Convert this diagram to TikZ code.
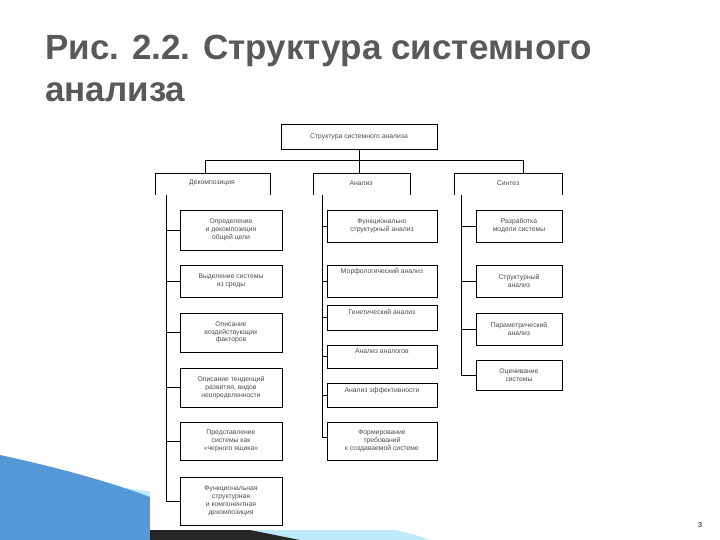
\documentclass[tikz,border=0pt]{standalone}
\usepackage{fontspec}
\setmainfont{Liberation Sans}
\begin{document}
\begin{tikzpicture}[x=1pt,y=-1pt,
  bx/.style={draw,line width=0.7pt,rectangle,minimum width=102pt,align=center,font=\fontsize{6.8}{7.8}\selectfont,text=black!70,inner sep=1pt},
  mb/.style={bx,minimum width=110pt},
  rb/.style={bx,minimum width=86pt},
  ln/.style={line width=0.7pt},
  ttl/.style={anchor=base west,font=\fontsize{35}{36}\selectfont\bfseries,text=black!65,inner sep=0}]
\useasboundingbox (0,0) rectangle (720,540);
\fill[white] (0,0) rectangle (720,540);
% decoration
\fill[cyan!25] (0,470) .. controls (200,500) and (380,520) .. (430,540) -- (0,540) -- cycle;
\fill[cyan!60!blue!70] (0,455) .. controls (60,468) and (110,482) .. (150,497) -- (150,540) -- (0,540) -- cycle;
\fill[black!85] (150,510) -- (300,540) -- (150,540) -- cycle;
\fill[white] (150,118) rectangle (578,530);
\node[ttl] (t1) at (45,60) {Рис. 2.2. Структура системного};
\node[ttl] (t2) at (45,102) {анализа};
\node[anchor=base,font=\fontsize{7}{8}\selectfont,inner sep=0] (pg) at (700,527) {3};
% top
\node[bx,minimum width=156pt,minimum height=25pt] (top) at (359,136.5) {Структура системного анализа};
\coordinate (hl) at (205,160); \coordinate (hr) at (523,160);
\draw[ln] (top.south) -- (359,173);
\draw[ln] (hl) -- (hr);
\draw[ln] (hl) -- (205,173); \draw[ln] (hr) -- (523,173);
% headers
\node[font=\fontsize{6.8}{7.8}\selectfont,text=black!70] (h1) at (212,183) {Декомпозиция};
\node[font=\fontsize{6.8}{7.8}\selectfont,text=black!70] (h2) at (361,183) {Анализ};
\node[font=\fontsize{6.8}{7.8}\selectfont,text=black!70] (h3) at (508,183) {Синтез};
\draw[ln] (155,195) -- (155,173) -- (270,173) -- (270,195);
\draw[ln] (313,195) -- (313,173) -- (410,173) -- (410,195);
\draw[ln] (454,195) -- (454,173) -- (562,173) -- (562,195);
% left
\node[bx,minimum height=40pt] (l1) at (231,230) {Определение\\и декомпозиция\\общей цели};
\node[bx,minimum height=32pt] (l2) at (231,281) {Выделение системы\\из среды};
\node[bx,minimum height=39pt] (l3) at (231,332.5) {Описание\\воздействующих\\факторов};
\node[bx,minimum height=39pt] (l4) at (231,387.5) {Описание тенденций\\развития, видов\\неопределенности};
\node[bx,minimum height=38pt] (l5) at (231,441) {Представление\\системы как\\«черного ящика»};
\node[bx,minimum height=48pt] (l6) at (231,501) {Функциональная\\структурная\\и компонентная\\декомпозиция};
\draw[ln] (166,195) -- (166,501);
\foreach \n in {l1,l2,l3,l4,l5,l6} \draw[ln] (166,0 |- \n.west) -- (\n.west);
% middle
\node[mb,minimum height=32pt] (m1) at (382,226) {Функционально\\структурный анализ};
\node[mb,minimum height=32pt,text depth=20pt] (m2) at (382,281) {Морфологический анализ};
\node[mb,minimum height=25pt,text depth=12pt] (m3) at (382,317.5) {Генетический анализ};
\node[mb,minimum height=23pt,text depth=10pt] (m4) at (382,356.5) {Анализ аналогов};
\node[mb,minimum height=24pt,text depth=10pt] (m5) at (382,395) {Анализ эффективности};
\node[mb,minimum height=38pt] (m6) at (382,441) {Формирование\\требований\\к создаваемой системе};
\draw[ln] (322,195) -- (322,437);
\foreach \n in {m1,m2,m3,m4,m5} \draw[ln] (322,0 |- \n.west) -- (\n.west);
\draw[ln] (322,437) -- (m6.west |- 0,437);
% right
\node[rb,minimum height=32pt] (r1) at (519,226) {Разработка\\модели системы};
\node[rb,minimum height=32pt] (r2) at (519,281) {Структурный\\анализ};
\node[rb,minimum height=32pt] (r3) at (519,329) {Параметрический\\анализ};
\node[rb,minimum height=30pt] (r4) at (519,375) {Оценивание\\системы};
\draw[ln] (461,195) -- (461,375);
\foreach \n in {r1,r2,r3,r4} \draw[ln] (461,0 |- \n.west) -- (\n.west);
\end{tikzpicture}
\end{document}
